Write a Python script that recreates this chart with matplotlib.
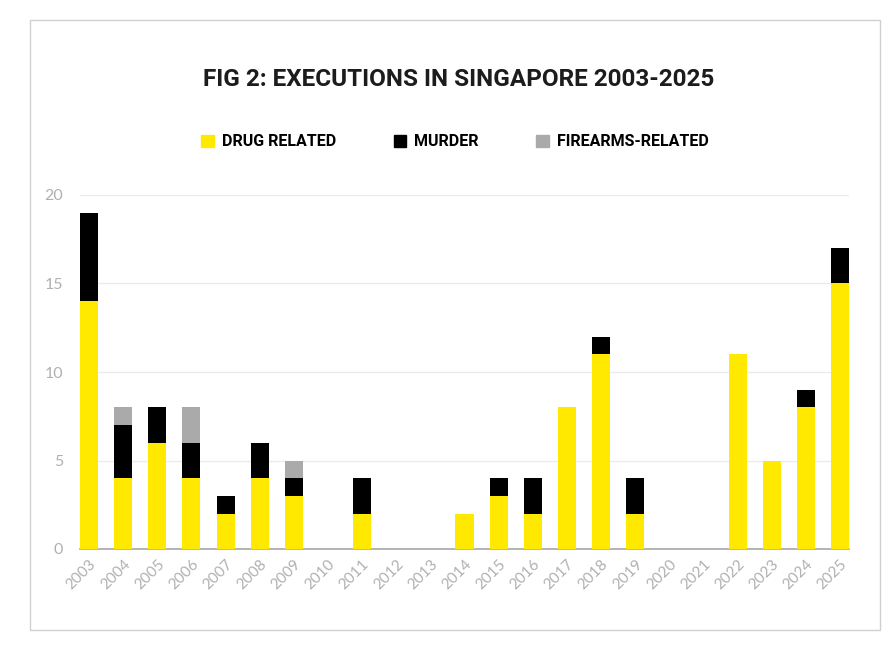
import matplotlib.pyplot as plt
from matplotlib.patches import Patch, Rectangle
import numpy as np

years = [str(y) for y in range(2003, 2026)]
drug = [14, 4, 6, 4, 2, 4, 3, 0, 2, 0, 0, 2, 3, 2, 8, 11, 2, 0, 0, 11, 5, 8, 15]
murder = [5, 3, 2, 2, 1, 2, 1, 0, 2, 0, 0, 0, 1, 2, 0, 1, 2, 0, 0, 0, 0, 1, 2]
firearms = [0, 1, 0, 2, 0, 0, 1, 0, 0, 0, 0, 0, 0, 0, 0, 0, 0, 0, 0, 0, 0, 0, 0]

YELLOW = "#ffe900"
BLACK = "#000000"
GREY = "#aaaaaa"
HEAD_FONT = ["Roboto", "DejaVu Sans"]
TICK_FONT = ["Lato", "DejaVu Sans"]

fig = plt.figure(figsize=(8.94, 6.47), dpi=100)
fig.patch.set_facecolor("white")

# outer frame
fig.patches.append(Rectangle((30 / 894, 1 - 630 / 647), 850 / 894, 610 / 647,
                             transform=fig.transFigure, fill=False,
                             edgecolor="#d0d0d0", linewidth=1.0))

ax = fig.add_axes([80 / 894, 1 - 549 / 647, 769 / 894, 354 / 647])

x = np.arange(len(years))
w = 0.53
drug = np.array(drug)
murder = np.array(murder)
firearms = np.array(firearms)
ax.bar(x, drug, w, color=YELLOW, zorder=3)
ax.bar(x, murder, w, bottom=drug, color=BLACK, zorder=3)
ax.bar(x, firearms, w, bottom=drug + murder, color=GREY, zorder=3)

ax.set_xlim(-w / 2, len(years) - 1 + w / 2)
ax.set_ylim(0, 20)
ax.set_yticks([0, 5, 10, 15, 20])
ax.set_yticklabels([0, 5, 10, 15, 20], family=TICK_FONT)
ax.yaxis.grid(True, color="#ebebeb", linewidth=1.0, zorder=0)
for s in ["top", "right", "left"]:
    ax.spines[s].set_visible(False)
ax.spines["bottom"].set_color("#a8a8a8")
ax.spines["bottom"].set_linewidth(1.2)
ax.tick_params(axis="both", length=0, colors="#b0b0b0", labelsize=11.5)
ax.tick_params(axis="y", pad=12)
ax.tick_params(axis="x", pad=6)
ax.set_xticks(x)
ax.set_xticklabels(years, rotation=45, ha="right", rotation_mode="anchor",
                   fontsize=11, color="#b0b0b0", family=TICK_FONT)

fig.text(0.513, 1 - 80 / 647, "FIG 2: EXECUTIONS IN SINGAPORE 2003-2025",
         ha="center", va="center", fontsize=17.5, fontweight="bold",
         family=HEAD_FONT, color="#1c1c1c")

handles = [Patch(color=YELLOW, label="DRUG RELATED"),
           Patch(color=BLACK, label="MURDER"),
           Patch(color=GREY, label="FIREARMS-RELATED")]
fig.legend(handles=handles, loc="center", bbox_to_anchor=(0.509, 1 - 142 / 647),
           ncol=3, frameon=False, handlelength=0.8, handleheight=0.8,
           handletextpad=0.5, columnspacing=3.6,
           prop={"family": HEAD_FONT, "weight": "bold", "size": 11.5})

plt.savefig("out.png", dpi=100)
